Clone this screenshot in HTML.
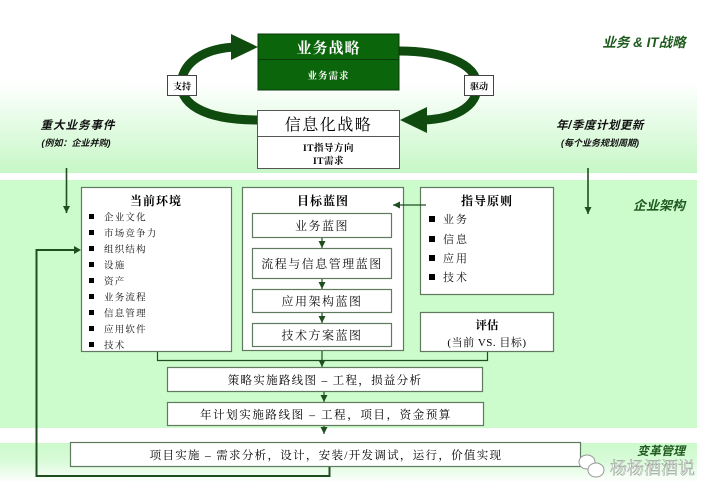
<!DOCTYPE html>
<html><head><meta charset="utf-8"><style>
html,body{margin:0;padding:0;background:#fff;}
svg{display:block;}
.s{font-family:"Liberation Serif","Noto Serif CJK SC",serif;}
.it{font-family:"Liberation Sans","Noto Sans CJK SC",sans-serif;font-style:italic;font-weight:bold;}
</style></head><body>
<svg width="716" height="498" viewBox="0 0 716 498" xmlns="http://www.w3.org/2000/svg">
<defs>
<linearGradient id="gt" x1="0" y1="0" x2="0" y2="1">
<stop offset="0" stop-color="#ffffff"/><stop offset="1" stop-color="#c6f7c6"/>
</linearGradient>
<linearGradient id="gb" x1="0" y1="0" x2="0" y2="1">
<stop offset="0" stop-color="#ccfacc"/><stop offset="0.45" stop-color="#d8fbd8"/><stop offset="1" stop-color="#ffffff"/>
</linearGradient>
<marker id="ah" markerWidth="8" markerHeight="8" refX="7" refY="4" orient="auto" markerUnits="userSpaceOnUse">
<path d="M0,0.5 L7,4 L0,7.5 Z" fill="#1f4f1f"/>
</marker>
</defs>
<!-- backgrounds -->
<rect x="0" y="82" width="697" height="91" fill="url(#gt)"/>
<rect x="0" y="180" width="697" height="248" fill="#ccfccc"/>
<rect x="0" y="443" width="697" height="40" fill="url(#gb)"/>

<!-- circular arrows -->
<path d="M258 120 C 205 120, 176 104, 182 78 C 187 58, 210 48, 236 47" fill="none" stroke="#0f4a0f" stroke-width="9"/>
<polygon points="231,34 258,47 231,60" fill="#0f4a0f"/>
<path d="M399 51 C 440 51, 476 62, 477 85 C 478 108, 452 119, 424 120" fill="none" stroke="#0f4a0f" stroke-width="9"/>
<polygon points="427,107 400,120 427,133" fill="#0f4a0f"/>

<!-- 业务战略 -->
<rect x="258" y="34" width="141" height="56" fill="#0b650b" stroke="#0a3a0a" stroke-width="1"/>
<line x1="258" y1="59.5" x2="399" y2="59.5" stroke="#0a3a0a" stroke-width="1"/>
<text x="328.5" y="53" text-anchor="middle" class="s" font-size="15" font-weight="bold" fill="#fff" letter-spacing="1">业务战略</text>
<text x="328.5" y="79" text-anchor="middle" class="s" font-size="9.5" font-weight="bold" fill="#fff" letter-spacing="1">业务需求</text>

<!-- 信息化战略 -->
<rect x="257.5" y="110.5" width="142" height="58" fill="#fff" stroke="#555" stroke-width="1"/>
<line x1="257.5" y1="136.5" x2="399.5" y2="136.5" stroke="#555" stroke-width="1"/>
<text x="328.5" y="130" text-anchor="middle" class="s" font-size="16" fill="#000" letter-spacing="1.5">信息化战略</text>
<text x="328.5" y="151" text-anchor="middle" class="s" font-size="9.5" font-weight="bold" fill="#000" letter-spacing="0.5">IT指导方向</text>
<text x="328.5" y="164" text-anchor="middle" class="s" font-size="9.5" font-weight="bold" fill="#000" letter-spacing="0.5">IT需求</text>

<!-- labels on arcs -->
<rect x="167.5" y="75.5" width="29" height="20" fill="#fff" stroke="#444" stroke-width="1"/>
<text x="182" y="89.5" text-anchor="middle" class="s" font-size="9" font-weight="bold">支持</text>
<rect x="464.5" y="75.5" width="29" height="20" fill="#fff" stroke="#444" stroke-width="1"/>
<text x="479" y="89.5" text-anchor="middle" class="s" font-size="9" font-weight="bold">驱动</text>

<!-- italic labels -->
<text x="644" y="47" text-anchor="middle" class="it" font-size="13.5" fill="#1f5a1f">业务 &amp; IT战略</text>
<text x="78" y="129" text-anchor="middle" class="it" font-size="11.5" fill="#111" letter-spacing="1">重大业务事件</text>
<text x="76" y="146" text-anchor="middle" class="it" font-size="9" fill="#111">(例如：企业并购)</text>
<text x="600" y="129" text-anchor="middle" class="it" font-size="11.5" fill="#111" letter-spacing="0.5">年/季度计划更新</text>
<text x="600" y="146" text-anchor="middle" class="it" font-size="9" fill="#111">(每个业务规划周期)</text>
<text x="659" y="210" text-anchor="middle" class="it" font-size="13" fill="#1f5a1f">企业架构</text>
<text x="661" y="455" text-anchor="middle" class="it" font-size="12" fill="#1f5a1f">变革管理</text>

<!-- down arrows -->
<line x1="66.5" y1="168" x2="66.5" y2="213" stroke="#1f4f1f" stroke-width="1.6" marker-end="url(#ah)"/>
<line x1="588" y1="168" x2="588" y2="214" stroke="#1f4f1f" stroke-width="1.6" marker-end="url(#ah)"/>

<!-- 当前环境 -->
<rect x="81.5" y="187.5" width="150" height="164" fill="#fff" stroke="#5f7a5f" stroke-width="1.2"/>
<text x="156" y="205" text-anchor="middle" class="s" font-size="12" font-weight="bold" letter-spacing="1">当前环境</text>
<g class="s" font-size="9.5" fill="#111" letter-spacing="1.2">
<rect x="89" y="214" width="5" height="5" fill="#000"/><text x="104" y="220.5">企业文化</text>
<rect x="89" y="230" width="5" height="5" fill="#000"/><text x="104" y="236.5">市场竞争力</text>
<rect x="89" y="246" width="5" height="5" fill="#000"/><text x="104" y="252.5">组织结构</text>
<rect x="89" y="262" width="5" height="5" fill="#000"/><text x="104" y="268.5">设施</text>
<rect x="89" y="278" width="5" height="5" fill="#000"/><text x="104" y="284.5">资产</text>
<rect x="89" y="294" width="5" height="5" fill="#000"/><text x="104" y="300.5">业务流程</text>
<rect x="89" y="310" width="5" height="5" fill="#000"/><text x="104" y="316.5">信息管理</text>
<rect x="89" y="326" width="5" height="5" fill="#000"/><text x="104" y="332.5">应用软件</text>
<rect x="89" y="342" width="5" height="5" fill="#000"/><text x="104" y="348.5">技术</text>
</g>

<!-- 目标蓝图 -->
<rect x="242.5" y="187.5" width="161" height="163" fill="#fff" stroke="#5f7a5f" stroke-width="1.2"/>
<text x="323" y="205" text-anchor="middle" class="s" font-size="12" font-weight="bold" letter-spacing="1">目标蓝图</text>
<g fill="#fff" stroke="#5f7a5f" stroke-width="1.2">
<rect x="252.5" y="213.5" width="139" height="24"/>
<rect x="252.5" y="248.5" width="139" height="30"/>
<rect x="252.5" y="289.5" width="139" height="23"/>
<rect x="252.5" y="323.5" width="139" height="23"/>
</g>
<g class="s" font-size="12" text-anchor="middle" fill="#111" letter-spacing="1.5">
<text x="322" y="230">业务蓝图</text>
<text x="322" y="268">流程与信息管理蓝图</text>
<text x="322" y="305.5">应用架构蓝图</text>
<text x="322" y="339.5">技术方案蓝图</text>
</g>
<g stroke="#1f4f1f" stroke-width="1.2">
<line x1="322" y1="238" x2="322" y2="248" marker-end="url(#ah)"/>
<line x1="322" y1="279" x2="322" y2="289" marker-end="url(#ah)"/>
<line x1="322" y1="313" x2="322" y2="323" marker-end="url(#ah)"/>
</g>

<!-- 指导原则 -->
<rect x="420.5" y="187.5" width="133" height="107" fill="#fff" stroke="#5f7a5f" stroke-width="1.2"/>
<text x="487" y="205" text-anchor="middle" class="s" font-size="12" font-weight="bold" letter-spacing="1">指导原则</text>
<g class="s" font-size="11" fill="#111" letter-spacing="2">
<rect x="429" y="216" width="6" height="6" fill="#000"/><text x="443" y="223">业务</text>
<rect x="429" y="236" width="6" height="6" fill="#000"/><text x="443" y="243">信息</text>
<rect x="429" y="255" width="6" height="6" fill="#000"/><text x="443" y="262">应用</text>
<rect x="429" y="274" width="6" height="6" fill="#000"/><text x="443" y="281">技术</text>
</g>
<line x1="426" y1="205" x2="393" y2="205" stroke="#1f4f1f" stroke-width="1.2" marker-end="url(#ah)"/>

<!-- 评估 -->
<rect x="420.5" y="312.5" width="133" height="39" fill="#fff" stroke="#5f7a5f" stroke-width="1.2"/>
<text x="487" y="329" text-anchor="middle" class="s" font-size="11.5" font-weight="bold">评估</text>
<text x="487" y="346" text-anchor="middle" class="s" font-size="11" letter-spacing="0.5">(当前 VS. 目标)</text>

<!-- connectors -->
<polyline points="157.5,352 157.5,360.5 487.5,360.5 487.5,352" fill="none" stroke="#1f4f1f" stroke-width="1.2"/>
<line x1="322" y1="351" x2="322" y2="367" stroke="#1f4f1f" stroke-width="1.2" marker-end="url(#ah)"/>

<!-- 策略 -->
<rect x="167.5" y="367.5" width="315" height="24" fill="#fff" stroke="#5f7a5f" stroke-width="1.2"/>
<text x="325" y="384" text-anchor="middle" class="s" font-size="11.5" letter-spacing="1.3">策略实施路线图 – 工程，损益分析</text>
<line x1="324" y1="392" x2="324" y2="402" stroke="#1f4f1f" stroke-width="1.2" marker-end="url(#ah)"/>
<rect x="167.5" y="402.5" width="316" height="23" fill="#fff" stroke="#5f7a5f" stroke-width="1.2"/>
<text x="326" y="418.5" text-anchor="middle" class="s" font-size="11.5" letter-spacing="1.6">年计划实施路线图 – 工程，项目，资金预算</text>
<line x1="324" y1="426" x2="324" y2="434" stroke="#1f4f1f" stroke-width="1.2" marker-end="url(#ah)"/>

<!-- 项目实施 -->
<rect x="70.5" y="442.5" width="510" height="24" fill="#fff" stroke="#5f7a5f" stroke-width="1.2"/>
<text x="326" y="459" text-anchor="middle" class="s" font-size="11.5" letter-spacing="1.3">项目实施 – 需求分析，设计，安装/开发调试，运行，价值实现</text>

<!-- feedback loop -->
<polyline points="329.5,467 329.5,476 36.5,476 36.5,250 78,250" fill="none" stroke="#1f4f1f" stroke-width="2"/>
<polygon points="74,246 81,250 74,254" fill="#1f4f1f"/>

<!-- watermark -->
<g fill="#fff" stroke="#999" stroke-width="1">
<ellipse cx="587" cy="462" rx="8" ry="7"/>
<ellipse cx="596" cy="470" rx="8" ry="7"/>
</g>
<text x="610" y="474" class="s" font-size="17" fill="#fff" stroke="#9a9a9a" stroke-width="0.5">杨杨酒酒说</text>
</svg>
</body></html>
